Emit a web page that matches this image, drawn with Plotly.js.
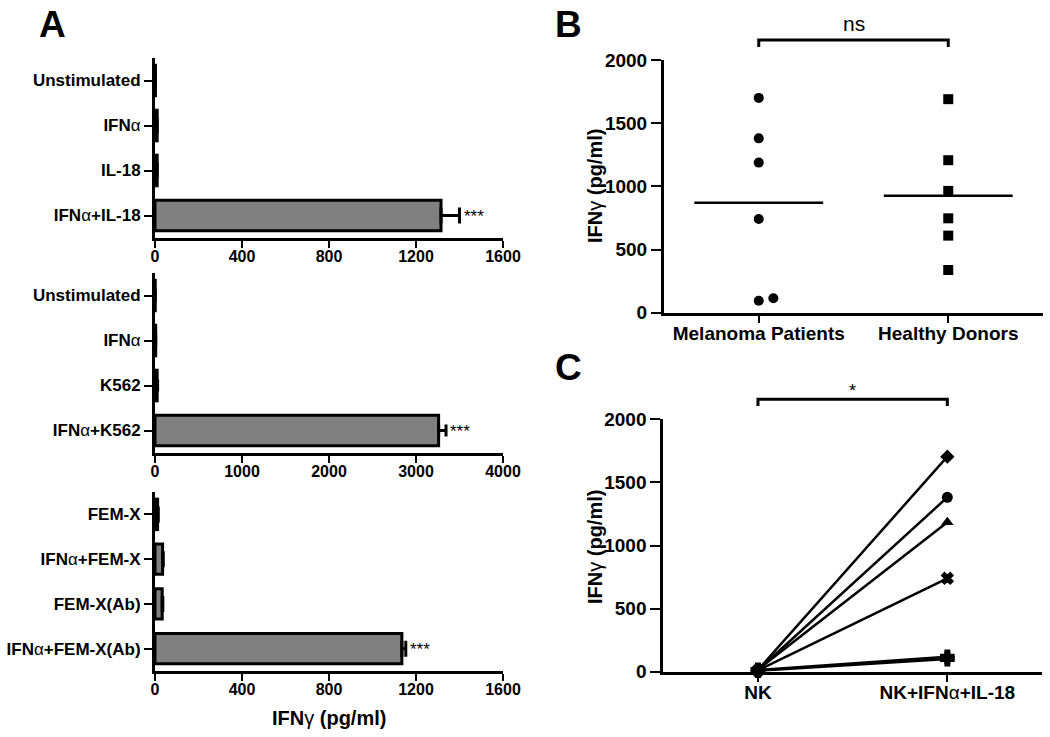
<!DOCTYPE html>
<html><head><meta charset="utf-8">
<script src="https://cdn.plot.ly/plotly-3.0.1.min.js"></script>
<style>body{margin:0;background:#fff}</style>
</head><body><div id="chart" style="width:1050px;height:737px"></div>
<script>
// ---------- Panel A data ----------
const catsA1 = ['Unstimulated', 'IFNα', 'IL-18', 'IFNα+IL-18'];
const valsA1 = [2, 10, 10, 1315];
const errA1  = [0, 0, 0, 85];
const catsA2 = ['Unstimulated', 'IFNα', 'K562', 'IFNα+K562'];
const valsA2 = [3, 8, 25, 3260];
const errA2  = [0, 0, 5, 85];
const catsA3 = ['FEM-X', 'IFNα+FEM-X', 'FEM-X(Ab)', 'IFNα+FEM-X(Ab)'];
const valsA3 = [12, 35, 33, 1135];
const errA3  = [3, 3, 3, 18];
const sigA   = ['', '', '', '***'];
const ticksA1 = [0, 400, 800, 1200, 1600];
const ticksA2 = [0, 1000, 2000, 3000, 4000];
const ticksA3 = [0, 400, 800, 1200, 1600];
// ---------- Panel B data ----------
const groupsB  = ['Melanoma Patients', 'Healthy Donors'];
const melanoma = [1700, 1380, 1188, 742, 95, 114];
const healthy  = [1690, 1207, 964, 747, 610, 338];
const ticksBC  = [0, 500, 1000, 1500, 2000];
// ---------- Panel C data ----------
const groupsC = ['NK', 'NK+IFNα+IL-18'];
const nkBase  = [15, 12, 18, 10, 8, 14];
const nkStim  = [1704, 1382, 1185, 740, 100, 118];

// ---------- styling ----------
const FONT = 'Liberation Sans, Arial, Helvetica, sans-serif';
const W = 1050, H = 737;
const px = v => v / W;            // horizontal pixel -> paper
const py = v => 1 - v / H;        // vertical pixel -> paper
const black = '#000';
const symbolsC = ['diamond', 'circle', 'triangle-up', 'x', 'cross', 'cross'];
// Greek letters drawn lighter, like the symbol font of the original
const greek = s => s.replace(/([αγ])/g, '<span style="font-weight:normal">$1</span>');

const traces = [];
const annotations = [];
const shapes = [];

function barPanel(cats, vals, errs, xa, ya, capW) {
  traces.push({
    type: 'bar', orientation: 'h', x: vals, y: cats,
    xaxis: xa, yaxis: ya, width: 0.68,
    marker: {color: '#808080', line: {color: black, width: 3}},
    error_x: {type: 'data', array: errs, arrayminus: errs.map(() => 0), symmetric: false,
              color: black, thickness: 3, width: capW},
    hoverinfo: 'x+y', showlegend: false
  });
  cats.forEach((c, i) => {
    if (sigA[i]) annotations.push({
      xref: xa, yref: ya, x: vals[i] + errs[i], y: c, text: sigA[i],
      xanchor: 'left', yanchor: 'middle', xshift: 2, yshift: -1, showarrow: false,
      font: {family: FONT, size: 17, color: black}
    });
  });
}
barPanel(catsA1, valsA1, errA1, 'x', 'y', 8);
barPanel(catsA2, valsA2, errA2, 'x2', 'y2', 6);
barPanel(catsA3, valsA3, errA3, 'x3', 'y3', 8);

// Panel B scatter with jitter for near-identical values
function spread(vals, idx) {
  const placed = [];
  return vals.map(v => {
    const near = placed.filter(p => Math.abs(p - v) < 60).length;
    placed.push(v);
    return idx + near * 0.077;
  });
}
const mean = a => a.reduce((s, v) => s + v, 0) / a.length;
[[melanoma, 'circle'], [healthy, 'square']].forEach(([vals, sym], i) => {
  traces.push({
    type: 'scatter', mode: 'markers', x: spread(vals, i), y: vals,
    xaxis: 'x4', yaxis: 'y4', marker: {symbol: sym, size: 10, color: black},
    showlegend: false, cliponaxis: false
  });
  const m = mean(vals);
  traces.push({
    type: 'scatter', mode: 'lines', x: [i - 0.34, i + 0.34], y: [m, m],
    xaxis: 'x4', yaxis: 'y4', line: {color: black, width: 2.5},
    showlegend: false, hoverinfo: 'skip'
  });
});

// Panel C paired lines
nkBase.forEach((b, i) => {
  traces.push({
    type: 'scatter', mode: 'lines+markers', x: [0, 1], y: [b, nkStim[i]],
    xaxis: 'x5', yaxis: 'y5',
    line: {color: black, width: 2.5},
    marker: {symbol: symbolsC[i], size: symbolsC[i] === 'x' ? 10 : 11, color: black,
             line: {color: black, width: symbolsC[i] === 'x' || symbolsC[i] === 'cross' ? 1.5 : 0}},
    showlegend: false, cliponaxis: false
  });
});

// ---------- axes ----------
const tfA = {family: FONT, size: 16, color: black, weight: 'bold'};
const tfAcat = {family: FONT, size: 17, color: black, weight: 'bold'};
const tfB = {family: FONT, size: 19, color: black, weight: 'bold'};
const tfBcat = {family: FONT, size: 19, color: black, weight: 'bold'};

function xAxisA(range, tv, anchor) {
  return {domain: [px(155), px(503)], anchor, range, tickvals: tv, ticktext: tv.map(String),
    showline: true, linewidth: 3, linecolor: black, ticks: 'outside', ticklen: 7, tickwidth: 2,
    tickcolor: black, showgrid: false, zeroline: false, tickfont: tfA, fixedrange: true,
    ticklabelstandoff: -5};
}
function yAxisA(cats, top, bottom, anchor) {
  return {domain: [py(bottom), py(top)], anchor, type: 'category', range: [3.5, -0.5],
    tickmode: 'array', tickvals: cats, ticktext: cats.map(greek),
    showline: true, linewidth: 3, linecolor: black, ticks: 'outside', ticklen: 8, tickwidth: 2,
    tickcolor: black, showgrid: false, zeroline: false, tickfont: tfAcat, fixedrange: true};
}

const layout = {
  width: W, height: H, margin: {l: 0, r: 0, t: 0, b: 0},
  paper_bgcolor: '#fff', plot_bgcolor: 'rgba(0,0,0,0)',
  showlegend: false, bargap: 0,
  font: {family: FONT, color: black},
  xaxis:  xAxisA([0, 1600], ticksA1, 'y'),
  yaxis:  yAxisA(catsA1, 58, 238, 'x'),
  xaxis2: xAxisA([0, 4000], ticksA2, 'y2'),
  yaxis2: yAxisA(catsA2, 273, 453, 'x2'),
  xaxis3: xAxisA([0, 1600], ticksA3, 'y3'),
  yaxis3: yAxisA(catsA3, 492, 671, 'x3'),
  xaxis4: {domain: [px(664), px(1043)], anchor: 'y4', range: [-0.5, 1.5], tickvals: [0, 1], ticktext: groupsB,
    showline: true, linewidth: 3, linecolor: black, ticks: 'outside', ticklen: 7, tickwidth: 2, tickcolor: black,
    showgrid: false, zeroline: false, tickfont: tfBcat, fixedrange: true, ticklabelstandoff: -6},
  yaxis4: {domain: [py(312.7), py(60)], anchor: 'x4', range: [0, 2000], tickvals: ticksBC, ticktext: ticksBC.map(String),
    showline: true, linewidth: 3, linecolor: black, ticks: 'outside', ticklen: 10, tickwidth: 2, tickcolor: black,
    showgrid: false, zeroline: false, tickfont: tfB, fixedrange: true},
  xaxis5: {domain: [px(663.3), px(1042)], anchor: 'y5', range: [-0.5, 1.5], tickvals: [0, 1], ticktext: groupsC.map(greek),
    showline: true, linewidth: 3, linecolor: black, ticks: 'outside', ticklen: 7, tickwidth: 2, tickcolor: black,
    showgrid: false, zeroline: false, tickfont: tfBcat, fixedrange: true, ticklabelstandoff: -6},
  yaxis5: {domain: [py(671.7), py(419.3)], anchor: 'x5', range: [0, 2000], tickvals: ticksBC, ticktext: ticksBC.map(String),
    showline: true, linewidth: 3, linecolor: black, ticks: 'outside', ticklen: 10, tickwidth: 2, tickcolor: black,
    showgrid: false, zeroline: false, tickfont: tfB, fixedrange: true},
  annotations: annotations,
  shapes: shapes
};

// panel letters
[['A', 52, 25], ['B', 568, 25], ['C', 568, 368]].forEach(([t, x, y]) => {
  annotations.push({xref: 'paper', yref: 'paper', x: px(x), y: py(y), text: t, showarrow: false,
    xanchor: 'center', yanchor: 'middle', font: {family: FONT, size: 37, color: black, weight: 'bold'}});
});
// axis titles
annotations.push({xref: 'paper', yref: 'paper', x: px(329), y: py(718), text: greek('IFNγ (pg/ml)'), showarrow: false,
  xanchor: 'center', yanchor: 'middle', font: {family: FONT, size: 20, color: black, weight: 'bold'}});
[186, 547].forEach(yc => {
  annotations.push({xref: 'paper', yref: 'paper', x: px(595), y: py(yc), text: greek('IFNγ (pg/ml)'), showarrow: false,
    textangle: -90, xanchor: 'center', yanchor: 'middle', font: {family: FONT, size: 20, color: black, weight: 'bold'}});
});
// significance brackets
function bracket(xa, yTop, yBot, label, labelY, size) {
  shapes.push({type: 'path', xref: xa, yref: 'paper',
    path: `M 0,${py(yBot)} L 0,${py(yTop)} L 1,${py(yTop)} L 1,${py(yBot)}`,
    line: {color: black, width: 3}});
  annotations.push({xref: xa, yref: 'paper', x: 0.5, y: py(labelY), text: label, showarrow: false,
    xanchor: 'center', yanchor: 'middle', font: {family: FONT, size: size, color: black}});
}
bracket('x4', 40, 47, 'ns', 24, 21);
bracket('x5', 399.3, 406, '*', 391, 18);

Plotly.newPlot('chart', traces, layout, {displayModeBar: false, staticPlot: true});
</script>
</body></html>
